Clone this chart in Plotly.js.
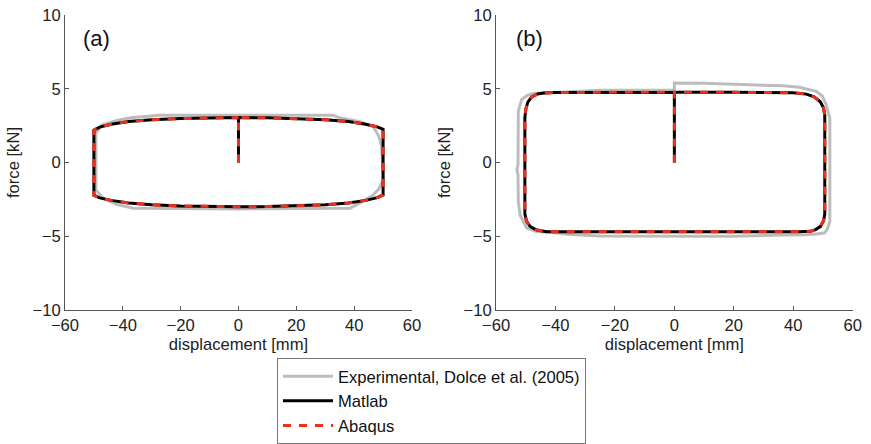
<!DOCTYPE html>
<html><head><meta charset="utf-8">
<script src="https://cdn.plot.ly/plotly-3.0.1.min.js"></script>
<style>html,body{margin:0;padding:0;background:#fff}#chart{width:871px;height:444px}</style>
</head><body><div id="chart"></div>
<script>
// ---- data ----
const xTicks = [-60, -40, -20, 0, 20, 40, 60];
const yTicks = [-10, -5, 0, 5, 10];

// (a) experimental (Dolce et al. 2005)
const expAX = [0, 15, 32.8, 34.5, 42, 46.6, 48.5, 49.5, 50.1, 48.5, 46.6, 42, 38.6, 20, 0, -20, -36.4, -42, -46.8, -49.3, -49.3, -47.3, -42, -38.7, -36.4, -27.2, -10, 0];
const expAY = [3.2, 3.2, 3.2, 3.06, 2.77, 2.43, 1.8, 1.07, -1.19, -1.8, -2.2, -2.75, -3.1, -3.12, -3.15, -3.12, -3.1, -2.85, -2.43, -1.86, 1.98, 2.54, 2.85, 2.98, 3.06, 3.2, 3.22, 3.2];
// (a) simulation (Matlab and Abaqus coincide)
const simAX = [0, 0, 10, 20, 30, 38, 44, 48, 50, 50, 48, 44, 38, 30, 20, 10, 0, -10, -20, -30, -38, -44, -48, -50, -50, -48, -44, -38, -30, -20, -10, 0];
const simAY = [0, 3.05, 3.03, 2.98, 2.9, 2.78, 2.6, 2.42, 2.25, -2.2, -2.38, -2.57, -2.74, -2.87, -2.95, -2.99, -3.0, -2.99, -2.95, -2.87, -2.74, -2.57, -2.4, -2.22, 2.2, 2.4, 2.6, 2.78, 2.9, 2.98, 3.03, 3.05];

// (b) experimental
const expBX = [0, 0, 10, 25, 36.6, 42, 45.4, 47.8, 49.8, 51.1, 52.3, 52.3, 51.5, 50.6, 47.8, 44.4, 36.6, 20, 8.6, -10, -25, -36.2, -41.8, -46.3, -49.7, -51.9, -52.5, -52.6, -53, -52.6, -52.5, -51.4, -49.5, -47.5, -36.2, -25, -8.2, 0];
const expBY = [4.9, 5.4, 5.38, 5.3, 5.2, 5.1, 4.92, 4.83, 4.5, 3.9, 3.0, -4.0, -4.5, -4.77, -4.85, -4.9, -4.92, -5.0, -5.0, -5.0, -4.98, -4.87, -4.72, -4.69, -4.45, -3.56, -2.66, -0.85, -0.5, -0.14, 3.48, 4.27, 4.55, 4.68, 4.77, 4.9, 4.9, 4.9];
// (b) simulation
const simBX = [0, 0, 20, 40, 44.4, 47, 49.1, 50.2, 50.6, 50.6, 50.2, 49.1, 47.5, 45.8, 42, 30, 0, -30, -43, -46.3, -48.5, -49.7, -50.3, -50.3, -50, -49.3, -48, -46, -44, -40, -20, 0];
const simBY = [0, 4.77, 4.76, 4.73, 4.64, 4.45, 4.12, 3.7, 3.2, -3.5, -3.95, -4.35, -4.55, -4.67, -4.7, -4.7, -4.69, -4.7, -4.7, -4.58, -4.35, -4.0, -3.5, 3.0, 3.6, 4.1, 4.45, 4.65, 4.72, 4.75, 4.77, 4.77];

const seriesNames = ['Experimental, Dolce et al. (2005)', 'Matlab', 'Abaqus'];

// ---- styling ----
const FONT = 'Liberation Sans, Arial, Helvetica, sans-serif';
const FS = 16.6;
const GRAY = '#bcbcbc', BLACK = '#000000', RED = '#e8321f';

function tr(x, y, xa, ya, name, color, dash, show) {
  return {type: 'scatter', mode: 'lines', x: x, y: y, xaxis: xa, yaxis: ya, name: name,
    showlegend: show, hoverinfo: 'skip', line: {color: color, width: 3, dash: dash}};
}
const DASH = '8px,8px';
const data = [
  tr(expAX, expAY, 'x', 'y', seriesNames[0], GRAY, 'solid', true),
  tr(simAX, simAY, 'x', 'y', seriesNames[1], BLACK, 'solid', true),
  tr(simAX, simAY, 'x', 'y', seriesNames[2], RED, DASH, true),
  tr(expBX, expBY, 'x2', 'y2', seriesNames[0], GRAY, 'solid', false),
  tr(simBX, simBY, 'x2', 'y2', seriesNames[1], BLACK, 'solid', false),
  tr(simBX, simBY, 'x2', 'y2', seriesNames[2], RED, DASH, false)
];

const axBase = {showgrid: false, zeroline: false, showline: true, linecolor: '#555', linewidth: 1,
  ticks: 'inside', ticklen: 4, tickcolor: '#555', tickfont: {size: FS, color: '#222'}, fixedrange: true,
  automargin: false};

function xax(domain, anchor) {
  return Object.assign({}, axBase, {domain: domain, range: [-60, 60], tickvals: xTicks, anchor: anchor,
    title: {text: 'displacement [mm]', font: {size: FS, color: '#222'}, standoff: 4}});
}
function yax(anchor) {
  return Object.assign({}, axBase, {domain: [0.302, 0.966], range: [-10, 10], tickvals: yTicks, anchor: anchor,
    title: {text: 'force [kN]', font: {size: FS, color: '#222'}, standoff: 8}});
}

const layout = {
  width: 871, height: 444,
  margin: {l: 0, r: 0, t: 0, b: 0, autoexpand: false},
  paper_bgcolor: '#fff', plot_bgcolor: '#fff',
  font: {family: FONT, size: FS, color: '#222'},
  xaxis: xax([0.0746, 0.473], 'y'),
  yaxis: yax('x'),
  xaxis2: xax([0.5695, 0.979], 'y2'),
  yaxis2: yax('x2'),
  showlegend: true,
  legend: {x: 0.318, y: 0.0, xanchor: 'left', yanchor: 'bottom', bordercolor: '#777', borderwidth: 1,
    bgcolor: '#fff', font: {size: FS, color: '#111'}, itemwidth: 50, tracegroupgap: 0},
  annotations: [
    {xref: 'x domain', yref: 'y domain', x: 0.092, y: 0.922, text: '(a)', showarrow: false,
     xanchor: 'center', yanchor: 'middle', font: {size: 22, color: '#111'}},
    {xref: 'x2 domain', yref: 'y2 domain', x: 0.095, y: 0.922, text: '(b)', showarrow: false,
     xanchor: 'center', yanchor: 'middle', font: {size: 22, color: '#111'}}
  ],
  hovermode: false
};

Plotly.newPlot('chart', data, layout, {staticPlot: true, displayModeBar: false});
</script></body></html>
